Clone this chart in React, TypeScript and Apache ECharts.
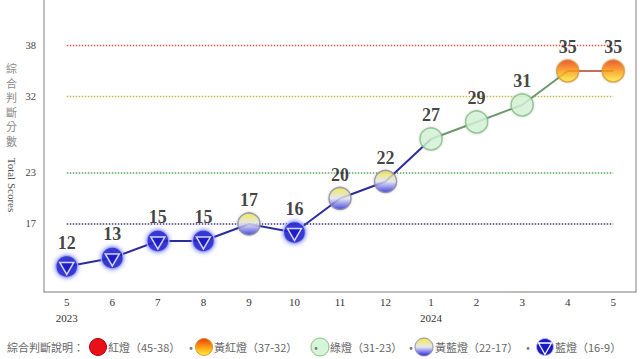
import React, { useEffect, useRef } from 'react';
import * as echarts from 'echarts';

const months = ['5', '6', '7', '8', '9', '10', '11', '12', '1', '2', '3', '4', '5'];
const years = ['2023', '', '', '', '', '', '', '', '2024', '', '', '', ''];
const scores = [12, 13, 15, 15, 17, 16, 20, 22, 27, 29, 31, 35, 35];
const thresholds = [38, 32, 23, 17];
const thresholdColors = ['#d9574f', '#c4b84c', '#5aa55a', '#3a3a8c'];
const legendTitle = '綜合判斷說明：';
const legendLabels = ['紅燈（45-38）', '黃紅燈（37-32）', '綠燈（31-23）', '黃藍燈（22-17）', '藍燈（16-9）'];
const legendFamilies = ['red', 'orange', 'green', 'yb', 'blue'];

function family(v: number): string {
  if (v >= 38) return 'red';
  if (v >= 32) return 'orange';
  if (v >= 23) return 'green';
  if (v >= 17) return 'yb';
  return 'blue';
}
function lineFamily(v: number): string {
  const f = family(v);
  return f === 'yb' ? 'blue' : f;
}

const lg = (stops: { offset: number; color: string }[]) => new echarts.graphic.LinearGradient(0, 0, 0, 1, stops);

const fills: Record<string, any> = {
  red: '#ea1018',
  orange: lg([
    { offset: 0, color: '#ec3a0c' },
    { offset: 0.5, color: '#ff9c14' },
    { offset: 1, color: '#fff43c' },
  ]),
  green: '#d6f5d8',
  yb: lg([
    { offset: 0, color: '#f2ea3c' },
    { offset: 0.5, color: '#e6e6f2' },
    { offset: 1, color: '#2626e0' },
  ]),
  blue: '#1a1ac4',
};
const borders: Record<string, string> = {
  red: '#b00010',
  orange: '#d8983a',
  green: '#86bc88',
  yb: '#8a8aa8',
  blue: '#aab8ff',
};
const lineColors: Record<string, string> = {
  blue: '#2c2c9c',
  green: '#6c986c',
  orange: '#c4705c',
};

const TRI = 'path://M0,0 L20,0 L10,17.3 Z';

export default function App() {
  const ref = useRef<HTMLDivElement>(null);
  useEffect(() => {
    if (!ref.current) return;
    const chart = echarts.init(ref.current, null, { renderer: 'svg' });
    const n = scores.length;

    const lineSeries = ['blue', 'green', 'orange'].map((fam) => ({
      type: 'line',
      data: scores.map((v, j) => {
        const startOk = j < n - 1 && lineFamily(scores[j]) === fam;
        const endOk = j > 0 && lineFamily(scores[j - 1]) === fam;
        return startOk || endOk ? v : null;
      }),
      symbol: 'none',
      lineStyle: { color: lineColors[fam], width: 2 },
      z: 3,
      silent: true,
    }));

    const thresholdSeries = thresholds.map((t, k) => ({
      type: 'line',
      data: months.map(() => t),
      symbol: 'none',
      lineStyle: { color: thresholdColors[k], width: 1.5, type: 'dotted' },
      z: 1,
      silent: true,
    }));

    const pointSeries = {
      type: 'scatter',
      data: scores.map((v) => {
        const f = family(v);
        return {
          value: v,
          itemStyle: {
            color: fills[f],
            borderColor: borders[f],
            borderWidth: 1.5,
            shadowBlur: f === 'blue' ? 4 : 2,
            shadowColor: f === 'blue' ? 'rgba(70,70,255,0.7)' : 'rgba(0,0,0,0.25)',
          },
        };
      }),
      symbol: 'circle',
      symbolSize: 22,
      z: 5,
      label: {
        show: true,
        position: 'top',
        distance: 3,
        formatter: '{c}',
        fontFamily: 'Liberation Serif, Times New Roman, serif',
        fontWeight: 'bold',
        fontSize: 18,
        color: '#111',
      },
    };

    const triSeries = {
      type: 'scatter',
      data: scores.map((v) => (family(v) === 'blue' ? v : null)),
      symbol: TRI,
      symbolSize: [14, 12],
      symbolOffset: [0, 2],
      itemStyle: { color: '#1a1ac4', borderColor: '#ffffff', borderWidth: 1.5 },
      z: 6,
      silent: true,
    };

    // legend graphics
    const legendY = 347;
    const symX = [98, 204, 320, 424, 545];
    const textX = [108, 214, 330, 435, 555];
    const sepX = [191, 316, 411, 528];
    const textStyle = {
      fontFamily: 'Noto Sans CJK TC, sans-serif',
      fontSize: 11,
      fill: '#666',
    };
    const graphics: any[] = [
      {
        type: 'text',
        left: 6,
        top: 61,
        style: {
          text: '綜\n合\n判\n斷\n分\n數',
          fontFamily: 'Noto Sans CJK TC, sans-serif',
          fontSize: 11,
          lineHeight: 14.5,
          fill: '#8a8a8a',
          align: 'left',
        },
      },
      {
        type: 'text',
        x: 12,
        y: 185,
        rotation: -Math.PI / 2,
        style: {
          text: 'Total Scores',
          fontFamily: 'Liberation Serif, Times New Roman, serif',
          fontSize: 11,
          fill: '#555',
          align: 'center',
          verticalAlign: 'middle',
        },
      },
      {
        type: 'text',
        x: 7,
        y: legendY,
        style: { ...textStyle, text: legendTitle, verticalAlign: 'middle' },
      },
    ];
    legendFamilies.forEach((f, i) => {
      graphics.push({
        type: 'circle',
        shape: { cx: symX[i], cy: legendY, r: f === 'yb' || f === 'green' ? 9 : 8.5 },
        style: { fill: fills[f], stroke: borders[f], lineWidth: 1 },
      });
      if (f === 'blue') {
        graphics.push({
          type: 'polygon',
          shape: {
            points: [
              [symX[i] - 6.5, legendY - 4],
              [symX[i] + 6.5, legendY - 4],
              [symX[i], legendY + 7.5],
            ],
          },
          style: { fill: '#1a1ac4', stroke: '#fff', lineWidth: 1.3 },
        });
      }
      graphics.push({
        type: 'text',
        x: textX[i],
        y: legendY,
        style: { ...textStyle, text: legendLabels[i], verticalAlign: 'middle' },
      });
    });
    sepX.forEach((x) => {
      graphics.push({
        type: 'text',
        x,
        y: legendY,
        style: { ...textStyle, text: '·', fontSize: 13, fill: '#777', align: 'center', verticalAlign: 'middle' },
      });
    });

    chart.setOption({
      animation: false,
      backgroundColor: '#ffffff',
      grid: {
        left: 44,
        right: 4,
        top: 0,
        bottom: 67,
        show: false,
      },
      xAxis: {
        type: 'category',
        data: months,
        boundaryGap: true,
        axisLine: { show: true, lineStyle: { color: '#a8a8a8', width: 1.5 } },
        axisTick: { show: false },
        axisLabel: {
          interval: 0,
          margin: 2,
          fontFamily: 'Liberation Serif, Times New Roman, serif',
          fontSize: 11,
          color: '#333',
          lineHeight: 16,
          formatter: (val: string, idx: number) => (years[idx] ? val + '\n' + years[idx] : val),
        },
        splitLine: { show: false },
      },
      yAxis: [
        {
          type: 'value',
          min: 9,
          max: 43.35,
          interval: 1,
          axisLine: { show: true, lineStyle: { color: '#a8a8a8', width: 1.5 } },
          axisTick: { show: false },
          splitLine: { show: false },
          axisLabel: {
            margin: 8,
            fontFamily: 'Liberation Serif, Times New Roman, serif',
            fontSize: 10.5,
            color: '#444',
            formatter: (v: number) => (thresholds.indexOf(v) >= 0 ? String(v) : ''),
          },
        },
        {
          type: 'value',
          position: 'right',
          min: 9,
          max: 43.35,
          axisLine: { show: true, lineStyle: { color: '#a8a8a8', width: 1.5 } },
          axisTick: { show: false },
          splitLine: { show: false },
          axisLabel: { show: false },
        },
      ],
      series: [...thresholdSeries, ...lineSeries, pointSeries, triSeries],
      graphic: graphics,
    });
    return () => chart.dispose();
  }, []);
  return (
    <div
      ref={ref}
      style={{ position: 'fixed', left: 0, top: 0, width: 640, height: 359, background: '#fff' }}
    />
  );
}
